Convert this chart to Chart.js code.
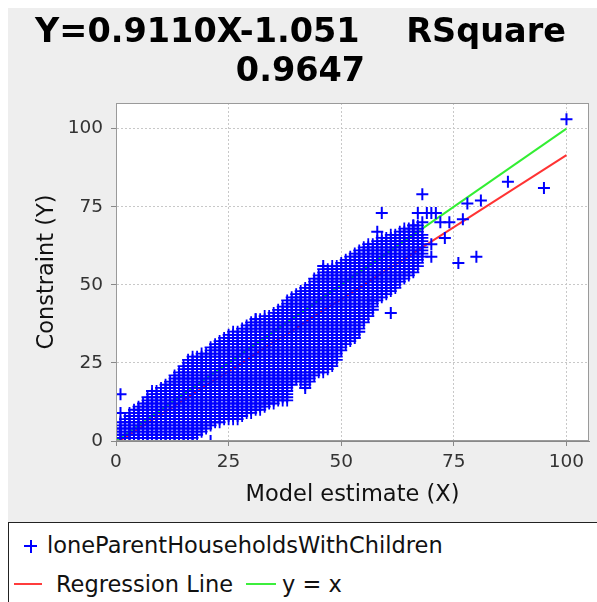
<!DOCTYPE html>
<html><head><meta charset="utf-8">
<script src="https://cdn.jsdelivr.net/npm/chart.js@4.4.1/dist/chart.umd.min.js"></script>
<style>
html,body{margin:0;padding:0;background:#fff;width:597px;height:602px;overflow:hidden;position:relative;}
#wrap{position:absolute;left:8px;top:8px;width:589px;height:514px;background:#eeeeee;}
#legend{position:absolute;left:8px;top:522px;width:600px;height:100px;background:#fff;border:1px solid #222;box-sizing:border-box;font-family:'DejaVu Sans',sans-serif;font-size:22.5px;color:#111;}
#legend .t{position:absolute;line-height:26px;white-space:nowrap;}
#legend .b{position:absolute;}
</style>
</head><body>
<div id="wrap"><canvas id="c" width="589" height="514"></canvas></div>
<div id="legend">
  <div class="b" style="left:15px;top:22px;width:13px;height:2px;background:#0000ff"></div>
  <div class="b" style="left:20.5px;top:16.5px;width:2px;height:13px;background:#0000ff"></div>
  <div class="t" style="left:38px;top:9px">loneParentHouseholdsWithChildren</div>
  <div class="b" style="left:5px;top:60px;width:28px;height:2px;background:#ff3c3c"></div>
  <div class="t" style="left:47px;top:48px">Regression Line</div>
  <div class="b" style="left:237px;top:60px;width:30px;height:2px;background:#3cee3c"></div>
  <div class="t" style="left:273px;top:48px">y = x</div>
</div>
<script>
// ---- data ----
const titleLines = ['Y=0.9110X-1.051    RSquare', '0.9647'];
const xTicks = [0, 25, 50, 75, 100];
const yTicks = [0, 25, 50, 75, 100];
// dense cloud: for each integer model estimate, the lowest and highest constraint value drawn
const bandX    = [0,1,2,3,4,5,6,7,8,9,10,11,12,13,14,15,16,17,18,19,20,21,22,23,24,25,26,27,28,29,30,31,32,33,34,35,36,37,38,39,40,41,42,43,44,45,46,47,48,49,50,51,52,53,54,55,56,57,58,59,60,61,62,63,64,65,66,67,68];
const bandLow  = [0,0,0,0,0,0,0,0,0,0,0,0,0,0,0,0,0,0,2,3,4,5,6,6,7,7,7,7,8,9,9,10,10,11,12,12,13,13,13,18,20,19,18,19,21,22,22,23,24,26,29,31,32,34,36,38,40,43,45,46,47,48,49,51,52,53,54,56,59];
const bandHigh = [4,6,7,9,10,11,12,14,16,16,17,18,19,21,22,24,26,27,27,28,28,30,31,32,33,34,35,35,36,37,38,39,39,40,40,41,42,43,45,46,47,48,49,50,52,53,55,55,56,56,57,58,59,60,61,62,63,63,64,65,65,66,66,67,68,68,69,69,66];
// isolated points
const outlierX = [1,1,21,31,42,46,50,53,54,57,57,58,59,61,66,67,68,69,70,71,68,72,74,73,70,70,76,80,77,78,81,87,95,100];
const outlierY = [15,9,0,39,17,56,32,33,35,42,45,67,73,41,69,73,70,73,73,73,79,70,70,65,63,59,57,59,71,76,77,83,81,103];
// lines
const lineX = [0, 100];
const regressionY = [-0.7, 91.5];
const identityY = [0, 100];

const cloud = [];
bandX.forEach((x, i) => { for (let y = bandLow[i]; y <= bandHigh[i]; y++) cloud.push({x, y}); });
const isolated = outlierX.map((x, i) => ({x, y: outlierY[i]}));

const FONT = "'DejaVu Sans', sans-serif";
const plotBg = {
  id: 'plotBg',
  beforeDraw(chart) {
    const {ctx, chartArea: a} = chart;
    ctx.save(); ctx.fillStyle = '#ffffff';
    ctx.fillRect(a.left, a.top, a.right - a.left, a.bottom - a.top);
    ctx.restore();
  },
  afterDraw(chart) {
    const {ctx, chartArea: a} = chart;
    ctx.save(); ctx.strokeStyle = '#9a9a9a'; ctx.lineWidth = 1;
    ctx.strokeRect(Math.round(a.left) + 0.5, Math.round(a.top) + 0.5, Math.round(a.right - a.left) - 1, Math.round(a.bottom - a.top) - 1);
    ctx.restore();
  }
};

const gridOpts = { color: '#c8c8c8', tickColor: '#888', tickLength: 5, tickBorderDash: [], lineWidth: 1 };
const borderOpts = { color: '#888', width: 1, dash: [2, 2] };

new Chart(document.getElementById('c'), {
  type: 'scatter',
  data: {
    datasets: [
      { label: 'loneParentHouseholdsWithChildren', data: isolated, pointStyle: 'cross', pointRadius: 6, pointHoverRadius: 6,
        borderColor: '#0000ff', backgroundColor: '#0000ff', pointBorderWidth: 2, showLine: false },
      { label: 'loneParentHouseholdsWithChildren', data: cloud, pointStyle: 'cross', pointRadius: 6, pointHoverRadius: 6,
        borderColor: '#0000ff', backgroundColor: '#0000ff', pointBorderWidth: 1.8, showLine: false },
      { label: 'Regression Line', type: 'line', data: lineX.map((x, i) => ({x, y: regressionY[i]})),
        borderColor: '#ff3333', borderWidth: 2, pointRadius: 0, fill: false },
      { label: 'y = x', type: 'line', data: lineX.map((x, i) => ({x, y: identityY[i]})),
        borderColor: '#33ee33', borderWidth: 2, pointRadius: 0, fill: false }
    ]
  },
  options: {
    responsive: false, animation: false, devicePixelRatio: 1,
    layout: { padding: { left: 0, right: 4, top: 0, bottom: 0 } },
    plugins: {
      legend: { display: false }, tooltip: { enabled: false },
      title: { display: true, text: titleLines, color: '#000',
        font: { family: FONT, size: 33.5, weight: 'bold', lineHeight: 39 / 33.5 },
        padding: { top: 5.5, bottom: 11.5 } }
    },
    scales: {
      x: {
        type: 'linear', min: 0, max: 105,
        afterBuildTicks: s => { s.ticks = xTicks.map(v => ({value: v})); },
        afterFit: s => { s.height = 81; },
        ticks: { color: '#333', font: { family: FONT, size: 18.5 }, padding: 5, maxRotation: 0, autoSkip: false },
        grid: gridOpts, border: borderOpts,
        title: { display: true, text: 'Model estimate (X)', color: '#111', font: { family: FONT, size: 22.5 }, padding: { top: 0, bottom: 13.5 } }
      },
      y: {
        type: 'linear', min: 0, max: 108.2,
        afterBuildTicks: s => { s.ticks = yTicks.map(v => ({value: v})); },
        afterFit: s => { s.width = 108; },
        ticks: { color: '#333', font: { family: FONT, size: 18.5 }, padding: 8, autoSkip: false },
        grid: gridOpts, border: borderOpts,
        title: { display: true, text: 'Constraint (Y)', color: '#111', font: { family: FONT, size: 22.5 }, padding: { top: 25.5, bottom: 0 } }
      }
    }
  },
  plugins: [plotBg]
});
</script>
</body></html>
